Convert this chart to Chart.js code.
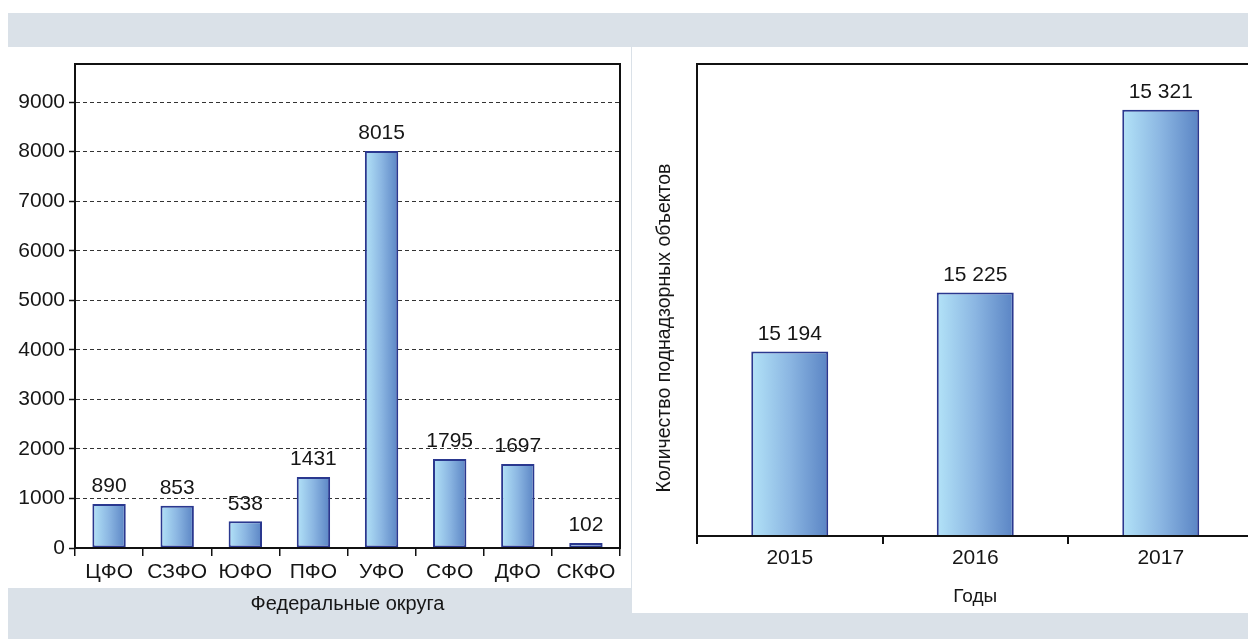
<!DOCTYPE html>
<html>
<head>
<meta charset="utf-8">
<script src="https://cdn.jsdelivr.net/npm/chart.js@4.4.1/dist/chart.umd.min.js"></script>
<style>
  html, body { margin: 0; padding: 0; background: #fff; }
  body { width: 1248px; height: 639px; position: relative; overflow: hidden; }
  .band { position: absolute; left: 8px; top: 13px; width: 1240px; height: 626px; background: #dae1e8; }
  .panel { position: absolute; background: #fff; }
  canvas { position: absolute; }
</style>
</head>
<body>
<div class="band"></div>
<div class="panel" style="left:8px;top:47px;width:623px;height:541px"></div>
<div class="panel" style="left:632px;top:47px;width:616px;height:566px"></div>
<canvas id="Chart1" style="left:8px;top:47px" width="623" height="569"></canvas>
<canvas id="Chart2" style="left:632px;top:47px" width="630" height="566"></canvas>
<script>
const okruga = ['ЦФО', 'СЗФО', 'ЮФО', 'ПФО', 'УФО', 'СФО', 'ДФО', 'СКФО'];
const obyektyOkruga = [890, 853, 538, 1431, 8015, 1795, 1697, 102];
const yTicksOkruga = [0, 1000, 2000, 3000, 4000, 5000, 6000, 7000, 8000, 9000];

const gody = ['2015', '2016', '2017'];
const obyektyGody = [15194, 15225, 15321];

const FONT = "'Liberation Sans', Arial, sans-serif";
const TXT = '#161616';

function barGradient(barPct) {
  return function (context) {
    const chart = context.chart;
    if (!chart.chartArea) return '#8ab8e4';
    const xs = chart.scales.x;
    const cx = xs.getPixelForValue(context.dataIndex);
    const half = xs.width / chart.data.labels.length * barPct / 2;
    const g = chart.ctx.createLinearGradient(cx - half, 0, cx + half, 0);
    g.addColorStop(0, '#b3e3f8');
    g.addColorStop(0.5, '#8bb6e2');
    g.addColorStop(1, '#5a84c4');
    return g;
  };
}

function spaced(v) {
  return String(v).replace(/\B(?=(\d{3})+(?!\d))/g, ' ');
}

const valueLabels = {
  id: 'valueLabels',
  afterDatasetsDraw(chart, args, opts) {
    const ctx = chart.ctx;
    const meta = chart.getDatasetMeta(0);
    ctx.save();
    ctx.font = opts.size + 'px ' + FONT;
    ctx.fillStyle = TXT;
    ctx.textAlign = 'center';
    ctx.textBaseline = 'bottom';
    meta.data.forEach((bar, i) => {
      const v = chart.data.datasets[0].data[i];
      ctx.fillText(opts.spaced ? spaced(v) : String(v), bar.x, bar.y - opts.gap);
    });
    ctx.restore();
  }
};

const frame = {
  id: 'frame',
  afterDraw(chart, args, opts) {
    const a = chart.chartArea;
    const ctx = chart.ctx;
    ctx.save();
    ctx.strokeStyle = '#111';
    ctx.lineWidth = opts.width;
    ctx.strokeRect(a.left, a.top, a.right - a.left, a.bottom - a.top);
    ctx.restore();
  }
};

const sideTitle = {
  id: 'sideTitle',
  afterDraw(chart, args, opts) {
    if (!opts.text) return;
    const a = chart.chartArea;
    const ctx = chart.ctx;
    ctx.save();
    ctx.translate(a.left - 32, (a.top + a.bottom) / 2 + 28);
    ctx.rotate(-Math.PI / 2);
    ctx.font = '19.5px ' + FONT;
    ctx.fillStyle = TXT;
    ctx.textAlign = 'center';
    ctx.textBaseline = 'middle';
    ctx.fillText(opts.text, 0, 0);
    ctx.restore();
  }
};

// левая диаграмма
new Chart(document.getElementById('Chart1'), {
  type: 'bar',
  data: {
    labels: okruga,
    datasets: [{
      data: obyektyOkruga,
      backgroundColor: barGradient(0.49),
      borderColor: '#2a388f',
      borderWidth: 2,
      borderSkipped: false,
      categoryPercentage: 1,
      barPercentage: 0.49
    }]
  },
  options: {
    responsive: false,
    animation: false,
    layout: { padding: { top: 17, right: 11, left: 0, bottom: 0 } },
    plugins: {
      legend: { display: false },
      tooltip: { enabled: false },
      valueLabels: { size: 21, gap: 7 },
      frame: { width: 2 }
    },
    scales: {
      x: {
        afterFit(scale) { scale.height = 68; },
        grid: { offset: true, drawOnChartArea: false, tickLength: 8, color: '#111', lineWidth: 1.5 },
        border: { color: '#111', width: 2 },
        ticks: { color: TXT, font: { family: FONT, size: 21 }, padding: 4, maxRotation: 0, autoSkip: false },
        title: { display: true, text: 'Федеральные округа', color: TXT, font: { family: FONT, size: 20 }, padding: { top: 0, bottom: 0 } }
      },
      y: {
        min: 0,
        max: 9770,
        afterFit(scale) { scale.width = 67; },
        afterBuildTicks(scale) { scale.ticks = yTicksOkruga.map(v => ({ value: v })); },
        grid: {
          color: '#333', lineWidth: 1, tickLength: 6,
          tickBorderDash: [], tickColor: '#111', tickWidth: 1.5
        },
        border: { color: '#111', width: 2, dash: [4, 3] },
        ticks: {
          autoSkip: false, color: TXT, font: { family: FONT, size: 21 }, padding: 4,
          callback: v => String(v)
        }
      }
    }
  },
  plugins: [valueLabels, frame]
});

// правая диаграмма
new Chart(document.getElementById('Chart2'), {
  type: 'bar',
  data: {
    labels: gody,
    datasets: [{
      data: obyektyGody,
      backgroundColor: barGradient(0.415),
      borderColor: '#2a388f',
      borderWidth: 2,
      borderSkipped: false,
      categoryPercentage: 1,
      barPercentage: 0.415
    }]
  },
  options: {
    responsive: false,
    animation: false,
    layout: { padding: { top: 17, right: 8.5, left: 0, bottom: 0 } },
    plugins: {
      legend: { display: false },
      tooltip: { enabled: false },
      valueLabels: { size: 21, gap: 7, spaced: true },
      frame: { width: 2 },
      sideTitle: { text: 'Количество поднадзорных объектов' }
    },
    scales: {
      x: {
        afterFit(scale) { scale.height = 77; },
        grid: { offset: true, drawOnChartArea: false, tickLength: 8, color: '#111', lineWidth: 2 },
        border: { color: '#111', width: 2 },
        ticks: { color: TXT, font: { family: FONT, size: 21 }, padding: 2, maxRotation: 0 },
        title: { display: true, text: 'Годы', color: TXT, font: { family: FONT, size: 19 }, padding: { top: 0, bottom: 5 } }
      },
      y: {
        min: 15097,
        max: 15345,
        afterFit(scale) { scale.width = 65; },
        grid: { display: false },
        border: { color: '#111', width: 2 },
        ticks: { display: false }
      }
    }
  },
  plugins: [valueLabels, frame, sideTitle]
});
</script>
</body>
</html>
